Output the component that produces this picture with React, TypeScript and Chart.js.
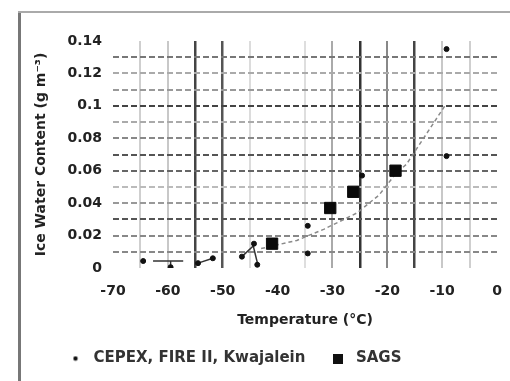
import React, { useEffect, useRef } from 'react';
import { Chart, registerables } from 'chart.js';

Chart.register(...registerables);

// ---- data ----
const xMin = -70;
const xMax = 0;
const yMin = 0;
const yMax = 0.14;

const fieldLabel = 'CEPEX, FIRE II, Kwajalein';
const fieldTemps = [-64.5, -59.5, -54.5, -51.8, -46.5, -44.3, -43.7, -34.5, -34.5, -24.6, -9.2, -9.2];
const fieldIWC = [0.0043, 0.0005, 0.003, 0.006, 0.007, 0.015, 0.002, 0.026, 0.009, 0.057, 0.069, 0.135];

const sagsLabel = 'SAGS';
const sagsTemps = [-41, -30.4, -26.2, -18.5];
const sagsIWC = [0.015, 0.037, 0.047, 0.06];

const fitTemps = [-43, -36.5, -31.5, -25.5, -21.5, -18.5, -16.5, -9.5];
const fitIWC = [0.012, 0.017, 0.024, 0.034, 0.045, 0.058, 0.064, 0.1];

// short bars / connectors (null separates segments)
const barTemps = [-62.7, -57.2, null, -59.5, -59.5, null, -54.5, -51.8, null, -46.5, -44.3, null, -44.6, -43.6];
const barIWC = [0.0043, 0.0043, null, 0.0043, 0.0005, null, 0.003, 0.006, null, 0.007, 0.014, null, 0.016, 0.002];

const xTitle = 'Temperature (°C)';
const yTitle = 'Ice Water Content (g m⁻³)';

// ---- styles ----
const vGridColor: Record<string, string> = {
  '-65': '#cfcfcf', '-60': '#c8c8c8', '-55': '#444', '-50': '#555', '-45': '#dcdcdc',
  '-40': 'rgba(0,0,0,0)', '-35': '#dedede', '-30': '#aaa', '-25': '#333', '-20': '#888',
  '-15': '#444', '-10': '#c8c8c8', '-5': '#cfcfcf',
};
const hGridColor: Record<string, string> = {
  '0.13': '#777', '0.12': '#aaa', '0.11': '#999', '0.1': '#444', '0.09': '#aaa', '0.08': '#888',
  '0.07': '#555', '0.06': '#666', '0.05': '#bbb', '0.04': '#999', '0.03': '#555', '0.02': '#888', '0.01': '#888',
};

const FONT = '"DejaVu Sans", "Liberation Sans", sans-serif';

function makeMarker(kind: 'dot' | 'square'): HTMLCanvasElement {
  const c = document.createElement('canvas');
  const s = kind === 'dot' ? 6 : 10;
  c.width = s; c.height = s;
  const g = c.getContext('2d')!;
  g.fillStyle = '#111';
  if (kind === 'dot') { g.beginPath(); g.arc(3, 3, 2.2, 0, Math.PI * 2); g.fill(); }
  else g.fillRect(0, 0, s, s);
  return c;
}

export default function App() {
  const ref = useRef<HTMLCanvasElement>(null);
  useEffect(() => {
    if (!ref.current) return;
    const dot = makeMarker('dot');
    const sq = makeMarker('square');
    const shiftLegend = {
      id: 'shiftLegend',
      afterLayout(chart: any) {
        const l = chart.legend;
        if (l) { l.left += 43; l.right += 43; l.top -= 5; l.bottom -= 5; }
      },
    };
    const chart = new Chart(ref.current, {
      type: 'scatter',
      data: {
        datasets: [
          {
            label: 'fit',
            data: fitTemps.map((x, i) => ({ x, y: fitIWC[i] })),
            showLine: true,
            borderColor: '#8a8a8a',
            borderWidth: 1.5,
            borderDash: [4, 3],
            pointRadius: 0,
            order: 3,
          },
          {
            label: 'bars',
            data: barTemps.map((x, i) => ({ x: x as any, y: barIWC[i] as any })),
            showLine: true,
            spanGaps: false,
            borderColor: '#333',
            borderWidth: 1.5,
            pointRadius: 0,
            order: 2,
          },
          {
            label: fieldLabel,
            data: fieldTemps.map((x, i) => ({ x, y: fieldIWC[i] })),
            pointStyle: 'circle',
            pointRadius: 2.5,
            backgroundColor: '#111',
            borderColor: '#111',
            order: 1,
          },
          {
            label: sagsLabel,
            data: sagsTemps.map((x, i) => ({ x, y: sagsIWC[i] })),
            pointStyle: 'rect',
            pointRadius: 8,
            backgroundColor: '#0a0a0a',
            borderColor: '#0a0a0a',
            order: 0,
          },
        ],
      },
      options: {
        responsive: false,
        animation: false,
        layout: { padding: { top: 41, right: 13, left: 0, bottom: 0 } },
        plugins: {
          tooltip: { enabled: false },
          legend: {
            position: 'bottom',
            align: 'start',
            labels: {
              usePointStyle: true,
              pointStyleWidth: 21,
              color: '#333',
              font: { family: FONT, size: 15, weight: 'bold' },
              padding: 22,
              boxHeight: 10,
              generateLabels: () => [
                { text: fieldLabel, pointStyle: dot, fillStyle: '#111', strokeStyle: '#111', lineWidth: 0, datasetIndex: 2, hidden: false, fontColor: '#333' },
                { text: sagsLabel, pointStyle: sq, fillStyle: '#111', strokeStyle: '#111', lineWidth: 0, datasetIndex: 3, hidden: false, fontColor: '#333' },
              ],
            },
          },
        },
        scales: {
          x: {
            type: 'linear',
            min: xMin,
            max: xMax,
            afterFit: (s: any) => { s.height = 66; s.paddingLeft = 0; s.paddingRight = 0; },
            border: { display: false },
            grid: {
              drawTicks: false,
              color: (c: any) => vGridColor[String(c.tick.value)] ?? 'rgba(0,0,0,0)',
              lineWidth: (c: any) => {
                const col = vGridColor[String(c.tick.value)];
                return col && (col === '#444' || col === '#555' || col === '#333') ? 2.5 : 2;
              },
            },
            ticks: {
              stepSize: 5,
              autoSkip: false,
              maxRotation: 0,
              padding: 15,
              color: '#222',
              font: { family: FONT, size: 14, weight: 'bold' },
              callback: (v: any) => (Number(v) % 10 === 0 ? String(v) : ''),
            },
            title: {
              display: true,
              text: xTitle,
              color: '#222',
              font: { family: FONT, size: 14, weight: 'bold' },
              padding: { top: 0, bottom: 5 },
            },
          },
          y: {
            type: 'linear',
            min: yMin,
            max: yMax,
            afterFit: (s: any) => { s.width = 113; },
            border: { display: false, dash: [6, 3] },
            grid: {
              drawTicks: false,
              color: (c: any) => hGridColor[String(parseFloat(Number(c.tick.value).toFixed(2)))] ?? 'rgba(0,0,0,0)',
              lineWidth: 2,
            },
            ticks: {
              stepSize: 0.01,
              autoSkip: false,
              padding: 11,
              color: '#222',
              font: { family: FONT, size: 14, weight: 'bold' },
              callback: (v: any) => {
                const n = Math.round(Number(v) * 100);
                return n % 2 === 0 ? String(parseFloat(Number(v).toFixed(2))) : '';
              },
            },
            title: {
              display: true,
              text: yTitle,
              color: '#222',
              font: { family: FONT, size: 14, weight: 'bold' },
              padding: { top: 33, bottom: 0 },
            },
          },
        },
      },
      plugins: [shiftLegend],
    } as any);
    return () => chart.destroy();
  }, []);

  return (
    <div style={{ position: 'absolute', left: 0, top: 0, width: 510, height: 381, background: '#fff', overflow: 'hidden' }}>
      <canvas ref={ref} width={510} height={381} style={{ position: 'absolute', left: 0, top: 0 }} />
      <div style={{ position: 'absolute', left: 18, top: 12, width: 3, height: 369, background: '#777' }} />
      <div style={{ position: 'absolute', left: 18, top: 11, width: 492, height: 2, background: '#aaa' }} />
    </div>
  );
}
